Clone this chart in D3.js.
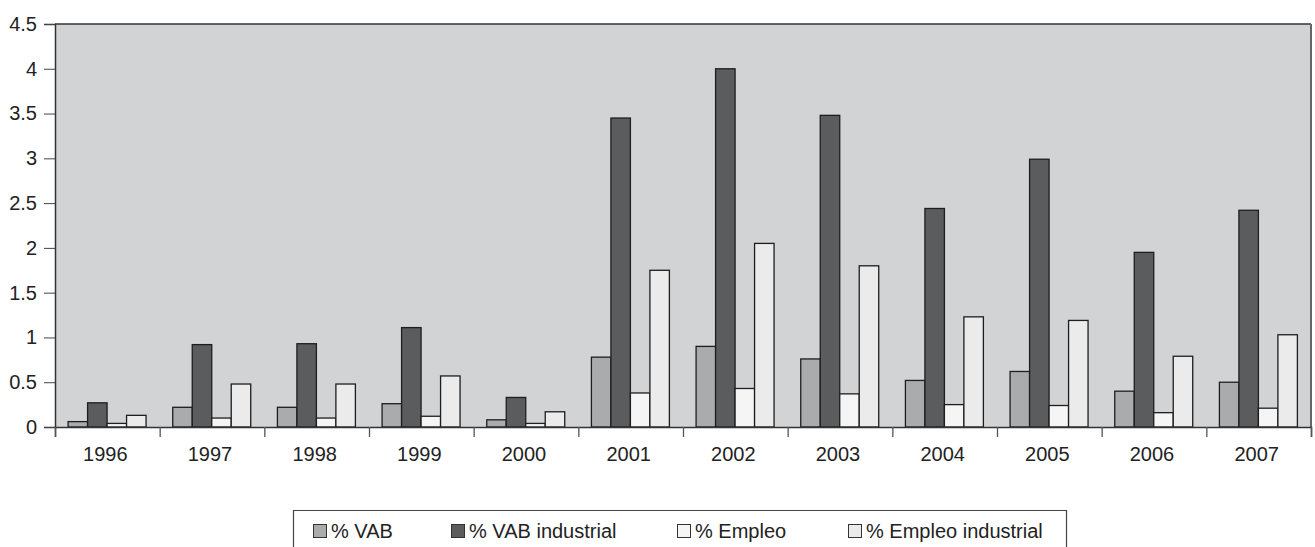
<!DOCTYPE html>
<html>
<head>
<meta charset="utf-8">
<script src="https://cdn.jsdelivr.net/npm/d3@7"></script>
<style>
  body { margin: 0; background: #fff; }
  svg { display: block; font-family: "Liberation Sans", Arial, sans-serif; }
</style>
</head>
<body>
<div id="viz"></div>
<script>
// chart data
const years = ['1996', '1997', '1998', '1999', '2000', '2001', '2002', '2003', '2004', '2005', '2006', '2007'];
const seriesNames = ['% VAB', '% VAB industrial', '% Empleo', '% Empleo industrial'];
const vab = [0.06, 0.22, 0.22, 0.26, 0.08, 0.78, 0.90, 0.76, 0.52, 0.62, 0.40, 0.50];
const vabIndustrial = [0.27, 0.92, 0.93, 1.11, 0.33, 3.45, 4.00, 3.48, 2.44, 2.99, 1.95, 2.42];
const empleo = [0.04, 0.10, 0.10, 0.12, 0.04, 0.38, 0.43, 0.37, 0.25, 0.24, 0.16, 0.21];
const empleoIndustrial = [0.13, 0.48, 0.48, 0.57, 0.17, 1.75, 2.05, 1.80, 1.23, 1.19, 0.79, 1.03];
const yTicks = [0, 0.5, 1, 1.5, 2, 2.5, 3, 3.5, 4, 4.5];

const series = [vab, vabIndustrial, empleo, empleoIndustrial];
const colors = ['#a9abad', '#5b5c5e', '#f5f5f5', '#ebebeb'];

const width = 1315, height = 547;
const margin = { top: 24, right: 4, bottom: 120, left: 55 };
const innerW = 1311 - margin.left, innerH = 427 - margin.top;

const svg = d3.select('#viz').append('svg')
    .attr('width', width)
    .attr('height', height);

const g = svg.append('g')
    .attr('transform', 'translate(' + margin.left + ',' + margin.top + ')');

let x0 = d3.scaleBand()
    .domain(years)
    .range([0, innerW])
    .paddingInner(0)
    .paddingOuter(0);

let x1 = d3.scaleBand()
    .domain(d3.range(series.length))
    .range([x0.bandwidth() * 0.125, x0.bandwidth() * 0.87])
    .padding(0);

let y = d3.scaleLinear()
    .domain([0, 4.5])
    .range([innerH, 0]);

// plot background
g.append('rect')
    .attr('x', 0).attr('y', 0)
    .attr('width', innerW).attr('height', innerH)
    .attr('fill', '#d2d3d5');

g.append('line')
    .attr('x1', 0).attr('x2', innerW)
    .attr('y1', 0).attr('y2', 0)
    .attr('stroke', '#333').attr('stroke-width', 1.5);
g.append('line')
    .attr('x1', innerW).attr('x2', innerW)
    .attr('y1', 0).attr('y2', innerH)
    .attr('stroke', '#666').attr('stroke-width', 2);

// bars
let groups = g.selectAll('g.year')
    .data(years)
    .enter()
    .append('g')
    .attr('class', 'year')
    .attr('transform', (d) => 'translate(' + x0(d) + ',0)');

groups.selectAll('rect')
    .data((d, i) => series.map((s, k) => ({ k: k, v: s[i] })))
    .enter()
    .append('rect')
    .attr('x', (d) => x1(d.k))
    .attr('width', x1.bandwidth())
    .attr('y', (d) => y(d.v))
    .attr('height', (d) => innerH - y(d.v))
    .attr('fill', (d) => colors[d.k])
    .attr('stroke', '#1e1e1e')
    .attr('stroke-width', 1.3);

// axes
let yAxis = d3.axisLeft(y)
    .tickValues(yTicks)
    .tickSize(11)
    .tickPadding(7)
    .tickFormat((d) => String(d));

let yGuide = g.append('g').call(yAxis);
yGuide.attr('font-family', null);
yGuide.select('.domain').attr('stroke', '#333').attr('stroke-width', 1.5);
yGuide.selectAll('.tick line').attr('stroke', '#444');
yGuide.selectAll('text').attr('font-size', 20).attr('fill', '#222');

let xAxis = d3.axisBottom(d3.scaleLinear().domain([0, years.length]).range([0, innerW]))
    .tickValues(d3.range(years.length + 1))
    .tickSize(10)
    .tickFormat('');

let xGuide = g.append('g')
    .attr('transform', 'translate(0,' + innerH + ')')
    .call(xAxis);
xGuide.attr('font-family', null);
xGuide.select('.domain').attr('stroke', '#333').attr('stroke-width', 1.5);
xGuide.selectAll('.tick line').attr('stroke', '#555').attr('stroke-width', 1.3);

xGuide.selectAll('text.year-label')
    .data(years)
    .enter()
    .append('text')
    .attr('class', 'year-label')
    .attr('x', (d) => x0(d) + x0.bandwidth() / 2 - 2)
    .attr('y', 34)
    .attr('text-anchor', 'middle')
    .attr('font-size', 20)
    .attr('fill', '#222')
    .text((d) => d);

// legend
let legend = svg.append('g');
legend.append('path')
    .attr('d', 'M293.5,548 V510.5 H1066.5 V548')
    .attr('fill', 'none')
    .attr('stroke', '#444')
    .attr('stroke-width', 1.2);

const legendX = [313, 451, 677, 848];
let items = legend.selectAll('g.item')
    .data(seriesNames)
    .enter()
    .append('g')
    .attr('class', 'item')
    .attr('transform', (d, i) => 'translate(' + legendX[i] + ',524)');

items.append('rect')
    .attr('x', 0.5).attr('y', 0.5)
    .attr('width', 13).attr('height', 13)
    .attr('fill', (d, i) => colors[i])
    .attr('stroke', '#333')
    .attr('stroke-width', 1);

items.append('text')
    .attr('x', 18)
    .attr('y', 14)
    .attr('font-size', 20)
    .attr('fill', '#222')
    .text((d) => d);
</script>
</body>
</html>
